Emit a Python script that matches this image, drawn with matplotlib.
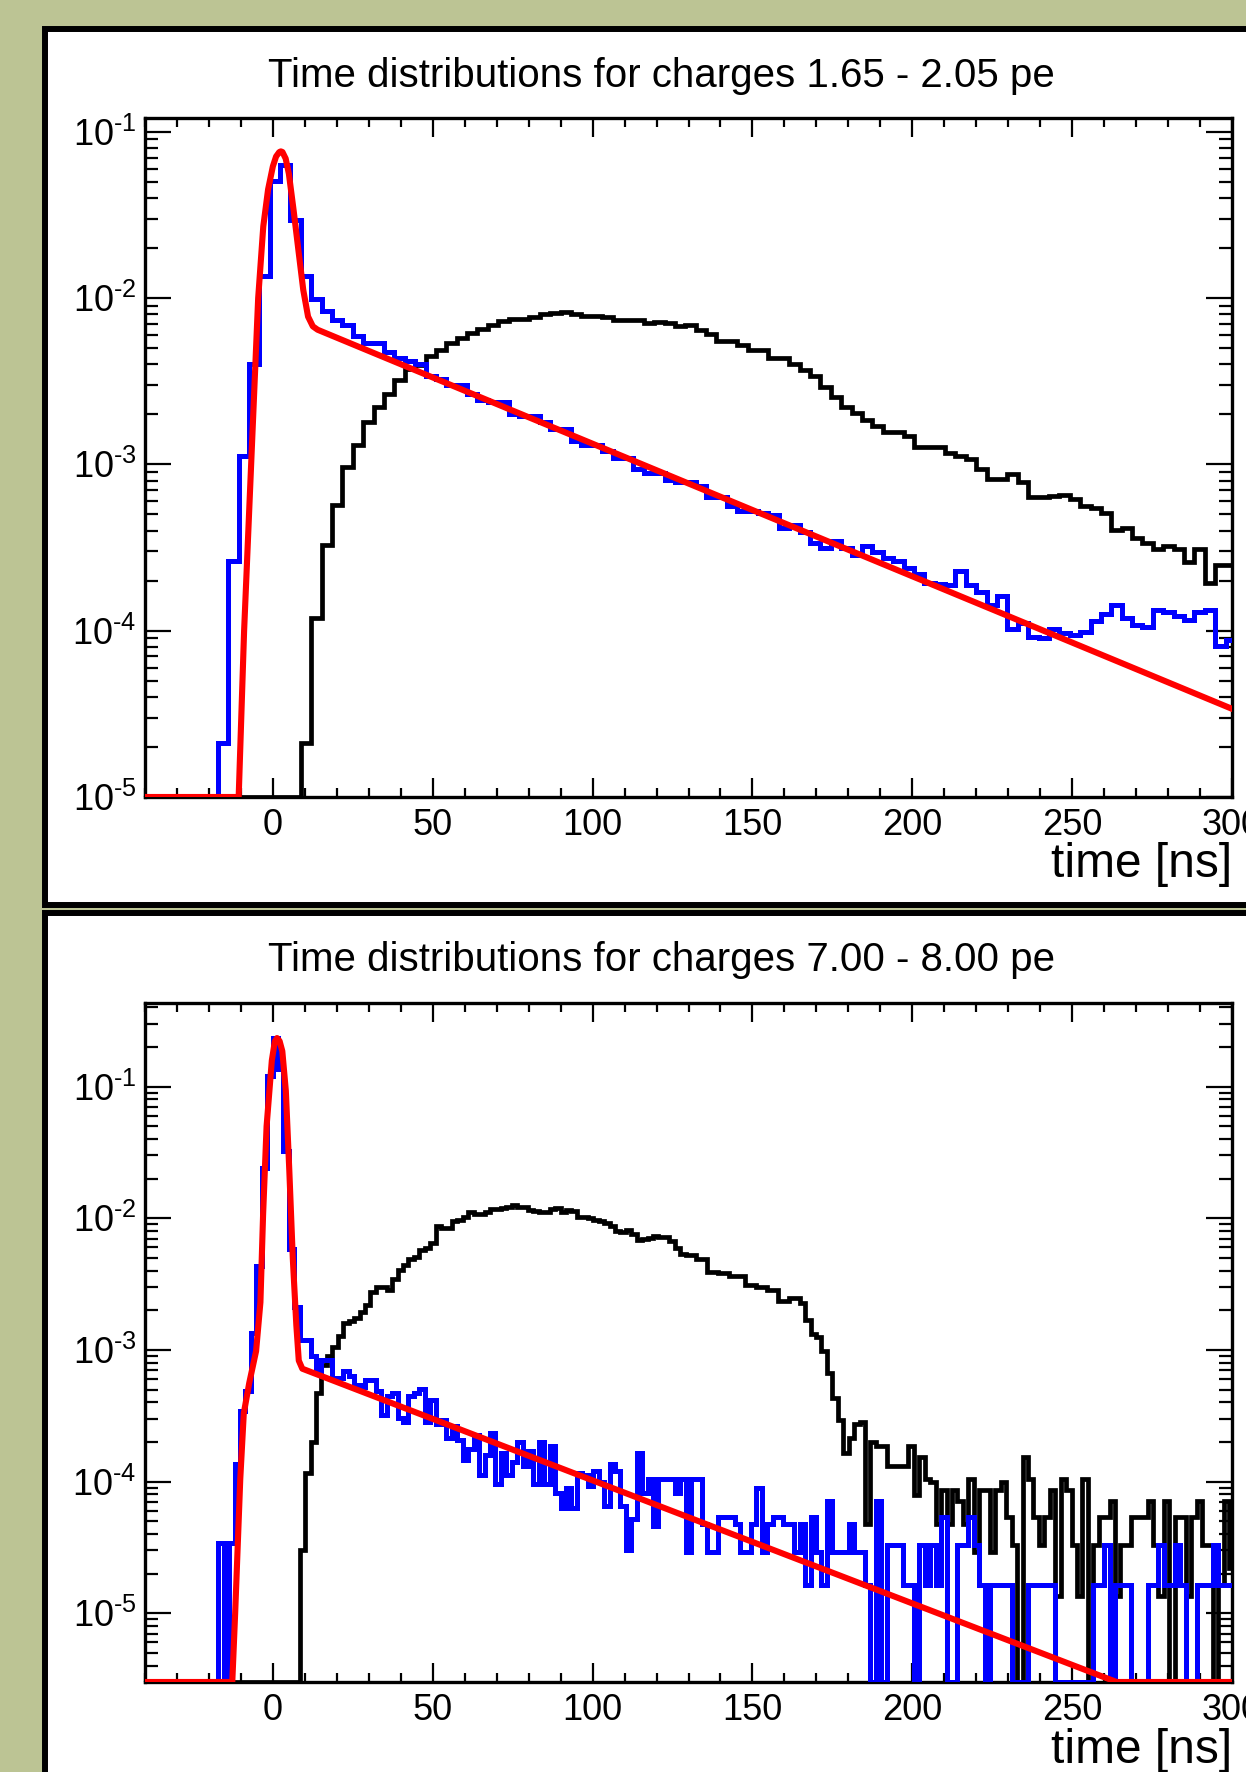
import numpy as np
import matplotlib
matplotlib.use("Agg")
import matplotlib.pyplot as plt
from matplotlib.patches import Rectangle
from matplotlib.ticker import LogLocator, MultipleLocator, NullFormatter, FuncFormatter

plt.rcParams['font.family'] = ['Liberation Sans', 'DejaVu Sans']
plt.rcParams['mathtext.fontset'] = 'custom'
plt.rcParams['mathtext.rm'] = 'Liberation Sans'
plt.rcParams['mathtext.default'] = 'regular'
plt.rcParams['axes.unicode_minus'] = False

# ---- data ----
titles = ["Time distributions for charges 1.65 - 2.05 pe",
          "Time distributions for charges 7.00 - 8.00 pe"]
xlabel = "time [ns]"
x_range = (-40, 300)
y_range_top = (1e-5, 0.121)
y_range_bot = (3e-6, 0.432)

# top panel: bin width 3.25 ns
top_width = 3.25
top_blue_start = -17.25
top_blue = [2.12e-5, 2.62e-4, 1.13e-3, 4.01e-3, 1.355e-2, 5.07e-2, 6.35e-2, 2.96e-2, 1.355e-2, 9.88e-3,
            8.38e-3, 7.38e-3, 6.93e-3, 5.89e-3, 5.37e-3, 5.37e-3, 4.75e-3, 4.34e-3, 4.16e-3, 4.01e-3,
            3.40e-3, 3.26e-3, 3.01e-3, 3.01e-3, 2.66e-3, 2.43e-3, 2.36e-3, 2.36e-3, 2.02e-3, 1.96e-3,
            1.96e-3, 1.79e-3, 1.63e-3, 1.63e-3, 1.39e-3, 1.30e-3, 1.30e-3, 1.20e-3, 1.10e-3, 1.10e-3,
            9.44e-4, 8.88e-4, 8.88e-4, 8.10e-4, 7.85e-4, 7.85e-4, 7.39e-4, 6.35e-4, 6.35e-4, 5.62e-4,
            5.28e-4, 5.28e-4, 5.13e-4, 4.98e-4, 4.14e-4, 4.35e-4, 3.90e-4, 3.35e-4, 3.15e-4, 3.45e-4,
            3.15e-4, 2.84e-4, 3.25e-4, 2.96e-4, 2.74e-4, 2.62e-4, 2.39e-4, 2.18e-4, 1.93e-4, 1.90e-4,
            1.87e-4, 2.28e-4, 1.87e-4, 1.71e-4, 1.43e-4, 1.61e-4, 1.02e-4, 1.12e-4, 9.12e-5, 9.02e-5,
            1.02e-4, 9.70e-5, 9.47e-5, 9.88e-5, 1.15e-4, 1.26e-4, 1.43e-4, 1.19e-4, 1.08e-4, 1.05e-4,
            1.34e-4, 1.30e-4, 1.22e-4, 1.16e-4, 1.30e-4, 1.34e-4, 8.08e-5, 8.75e-5]
top_black_start = 8.75
top_black = [2.12e-5, 1.20e-4, 3.29e-4, 5.69e-4, 9.61e-4, 1.30e-3, 1.81e-3, 2.22e-3, 2.66e-3, 3.20e-3,
             3.72e-3, 3.96e-3, 4.47e-3, 4.90e-3, 5.37e-3, 5.78e-3, 6.14e-3, 6.53e-3, 6.93e-3, 7.28e-3,
             7.50e-3, 7.50e-3, 7.74e-3, 7.98e-3, 8.13e-3, 8.22e-3, 7.98e-3, 7.83e-3, 7.83e-3, 7.65e-3,
             7.38e-3, 7.38e-3, 7.38e-3, 7.06e-3, 7.20e-3, 7.06e-3, 6.77e-3, 6.85e-3, 6.45e-3, 6.07e-3,
             5.54e-3, 5.54e-3, 5.21e-3, 4.90e-3, 4.90e-3, 4.34e-3, 4.34e-3, 4.01e-3, 3.68e-3, 3.40e-3,
             2.92e-3, 2.55e-3, 2.22e-3, 2.05e-3, 1.85e-3, 1.71e-3, 1.57e-3, 1.57e-3, 1.49e-3, 1.28e-3,
             1.28e-3, 1.28e-3, 1.17e-3, 1.13e-3, 1.07e-3, 9.44e-4, 8.20e-4, 8.20e-4, 8.72e-4, 7.85e-4,
             6.35e-4, 6.35e-4, 6.43e-4, 6.55e-4, 6.16e-4, 5.62e-4, 5.45e-4, 5.13e-4, 4.02e-4, 4.14e-4,
             3.62e-4, 3.35e-4, 3.09e-4, 3.21e-4, 3.09e-4, 2.58e-4, 3.09e-4, 1.93e-4, 2.47e-4, 2.47e-4]
top_fit_x = [-40, -10.7, -9.0, -6.8, -4.6, -3.0, -1.5, 0.0, 1.0, 2.0, 2.5, 3.0, 4.0, 5.0, 6.5, 8.0,
             9.5, 11.0, 12.5, 14.0, 300]
top_fit_y = [1e-5, 1e-5, 1.0e-4, 1.0e-3, 1.0e-2, 2.7e-2, 4.5e-2, 6.2e-2, 7.1e-2, 7.55e-2, 7.62e-2,
             7.55e-2, 6.9e-2, 5.6e-2, 3.35e-2, 1.93e-2, 1.12e-2, 7.74e-3, 6.76e-3, 6.45e-3, 3.39e-5]

# bottom panel: bin width 1.7 ns
bot_width = 1.7
bot_blue_start = -17.1
bot_blue = [3.4e-5, 0, 3.4e-5, 1.36e-4, 3.44e-4, 4.86e-4, 1.35e-3, 4.32e-3, 2.40e-2, 1.21e-1,
            2.34e-1, 1.36e-1, 3.27e-2, 5.83e-3, 2.11e-3, 1.18e-3, 1.18e-3, 9.01e-4, 6.73e-4, 8.35e-4,
            8.35e-4, 6.13e-4, 6.13e-4, 6.89e-4, 6.37e-4, 5.46e-4, 5.25e-4, 5.90e-4, 5.90e-4, 4.86e-4,
            3.18e-4, 4.50e-4, 4.68e-4, 3.06e-4, 2.83e-4, 4.50e-4, 4.68e-4, 5.06e-4, 2.83e-4, 4.17e-4,
            2.72e-4, 2.95e-4, 2.16e-4, 2.62e-4, 2.08e-4, 1.47e-4, 1.78e-4, 2.25e-4, 1.12e-4, 1.59e-4,
            2.34e-4, 9.62e-5, 1.65e-4, 1.12e-4, 1.41e-4, 2.00e-4, 1.31e-4, 1.71e-4, 9.62e-5, 2.00e-4,
            9.62e-5, 1.85e-4, 8.24e-5, 6.29e-5, 8.89e-5, 6.29e-5, 1.17e-4, 1.12e-4, 9.25e-5, 1.21e-4,
            1.00e-4, 6.53e-5, 1.36e-4, 1.21e-4, 6.53e-5, 3.02e-5, 5.19e-5, 1.65e-4, 8.24e-5, 1.04e-4,
            4.62e-5, 1.04e-4, 1.04e-4, 1.04e-4, 8.24e-5, 1.04e-4, 2.9e-5, 1.04e-4, 1.04e-4, 4.8e-5,
            2.9e-5, 2.9e-5, 5.4e-5, 5.4e-5, 5.4e-5, 4.8e-5, 2.9e-5, 2.9e-5, 4.8e-5, 8.9e-5,
            2.9e-5, 4.8e-5, 5.4e-5, 5.4e-5, 4.8e-5, 4.8e-5, 2.9e-5, 4.8e-5, 1.63e-5, 5.4e-5,
            2.9e-5, 1.63e-5, 7.06e-5, 2.9e-5, 2.9e-5, 2.9e-5, 4.8e-5, 2.9e-5, 2.9e-5, 1.63e-5,
            0, 7.06e-5, 0, 3.27e-5, 3.27e-5, 3.27e-5, 1.63e-5, 1.63e-5, 0, 3.27e-5,
            1.63e-5, 3.27e-5, 1.63e-5, 5.4e-5, 0, 0, 3.27e-5, 3.27e-5, 5.4e-5, 3.27e-5,
            1.63e-5, 0, 1.63e-5, 1.63e-5, 1.63e-5, 1.63e-5, 0, 0, 0, 1.63e-5,
            1.63e-5, 1.63e-5, 1.63e-5, 1.63e-5, 0, 0, 0, 0, 0, 0,
            0, 1.63e-5, 1.63e-5, 3.27e-5, 0, 1.63e-5, 1.63e-5, 1.63e-5, 0, 0,
            0, 1.63e-5, 1.63e-5, 3.27e-5, 1.63e-5, 1.63e-5, 3.27e-5, 1.63e-5, 0, 0,
            1.63e-5, 1.63e-5, 1.63e-5, 3.27e-5, 1.63e-5, 1.63e-5, 1.63e-5]
bot_black_start = 8.4
bot_black = [3.0e-5, 1.17e-4, 2.0e-4, 4.68e-4, 7.7e-4, 9.0e-4, 1.05e-3, 1.28e-3, 1.61e-3, 1.67e-3,
             1.74e-3, 1.95e-3, 2.19e-3, 2.76e-3, 2.98e-3, 2.98e-3, 2.87e-3, 3.48e-3, 4.06e-3, 4.39e-3,
             4.93e-3, 5.12e-3, 5.75e-3, 5.97e-3, 6.45e-3, 8.79e-3, 8.45e-3, 8.45e-3, 9.50e-3, 9.72e-3,
             1.026e-2, 1.109e-2, 1.083e-2, 1.083e-2, 1.109e-2, 1.170e-2, 1.170e-2, 1.197e-2, 1.225e-2, 1.264e-2,
             1.225e-2, 1.225e-2, 1.151e-2, 1.134e-2, 1.109e-2, 1.109e-2, 1.170e-2, 1.197e-2, 1.109e-2, 1.151e-2,
             1.134e-2, 1.026e-2, 1.026e-2, 1.002e-2, 9.72e-3, 9.50e-3, 9.28e-3, 8.79e-3, 7.94e-3, 7.83e-3,
             8.13e-3, 7.54e-3, 6.81e-3, 6.97e-3, 7.14e-3, 7.36e-3, 7.25e-3, 7.25e-3, 6.71e-3, 5.97e-3,
             5.32e-3, 5.24e-3, 5.24e-3, 4.93e-3, 4.93e-3, 3.91e-3, 3.91e-3, 3.85e-3, 3.85e-3, 3.62e-3,
             3.62e-3, 3.62e-3, 3.10e-3, 3.10e-3, 2.98e-3, 2.98e-3, 2.83e-3, 2.83e-3, 2.37e-3, 2.37e-3,
             2.50e-3, 2.50e-3, 2.28e-3, 1.70e-3, 1.33e-3, 1.25e-3, 9.75e-4, 6.73e-4, 4.34e-4, 2.95e-4,
             1.65e-4, 2.16e-4, 2.72e-4, 2.83e-4, 4.80e-5, 2.00e-4, 1.85e-4, 1.85e-4, 1.31e-4, 1.31e-4,
             1.31e-4, 1.31e-4, 1.85e-4, 7.93e-5, 1.53e-4, 1.04e-4, 1.00e-4, 4.80e-5, 8.57e-5, 4.80e-5,
             8.57e-5, 7.06e-5, 4.80e-5, 1.04e-4, 2.90e-5, 8.57e-5, 8.57e-5, 2.90e-5, 8.57e-5, 1.00e-4,
             5.39e-5, 3.27e-5, 0, 1.53e-4, 1.04e-4, 5.39e-5, 3.27e-5, 5.39e-5, 8.57e-5, 1.34e-5,
             1.04e-4, 8.57e-5, 3.27e-5, 1.34e-5, 1.04e-4, 0, 3.27e-5, 5.39e-5, 5.39e-5, 7.06e-5,
             1.34e-5, 3.27e-5, 3.27e-5, 5.39e-5, 5.39e-5, 5.39e-5, 7.06e-5, 3.27e-5, 1.34e-5, 7.06e-5,
             0, 5.39e-5, 5.39e-5, 1.34e-5, 5.39e-5, 7.06e-5, 3.27e-5, 3.27e-5, 0, 1.63e-5,
             7.06e-5, 2.22e-5]
bot_fit_x = [-40, -12.7, -11.8, -10.2, -9.1, -7.4, -5.25, -3.9, -3.06, -1.97, -0.33, 0.6, 1.3, 2.1,
             2.95, 4.05, 5.14, 6.24, 7.33, 8.1, 9.2, 263.9, 300]
bot_fit_y = [3e-6, 3e-6, 1e-5, 1.05e-4, 3.3e-4, 5.6e-4, 9.8e-4, 2.3e-3, 1.07e-2, 5.0e-2, 0.158, 0.22,
             0.234, 0.222, 0.186, 0.093, 0.023, 4.9e-3, 1.55e-3, 8.3e-4, 7.2e-4, 3e-6, 3e-6]

# ---- layout (pixels of the 1246x1772 picture) ----
W, H = 1246, 1772
def fx(x): return x / W
def fy(y): return 1 - y / H

fig = plt.figure(figsize=(W / 100, H / 100), dpi=100)
fig.patch.set_facecolor('#bcc494')

# white pads with thick black borders
for top, bot in [(29, 905), (913, 1800)]:
    fig.add_artist(Rectangle((fx(45), fy(bot)), fx(1320) - fx(45), (bot - top) / H,
                             transform=fig.transFigure, facecolor='white',
                             edgecolor='black', lw=4.3, zorder=-5))


def hist_line(ax, start, width, vals, ymin, **kw):
    vals = np.asarray(vals, float)
    edges = start + width * np.arange(len(vals) + 1)
    v = np.concatenate([[0.0], vals])
    e = np.concatenate([[x_range[0]], edges])
    if e[-1] < x_range[1]:
        v = np.append(v, 0.0)
        e = np.append(e, x_range[1])
    v = np.where(v > 0, v, ymin)
    ax.stairs(v, e, baseline=None, **kw)


def pow_label(v, pos):
    # ROOT-style 10^-n with a plain hyphen in the exponent
    e = int(round(np.log10(v)))
    return r'$10^{\text{%d}}$' % e


panels = [
    (118, 797, y_range_top, top_blue_start, top_width, top_blue, top_black_start, top_black,
     top_fit_x, top_fit_y, 87, 877),
    (1003, 1682, y_range_bot, bot_blue_start, bot_width, bot_blue, bot_black_start, bot_black,
     bot_fit_x, bot_fit_y, 971, 1763),
]

for i, (ytop, ybot, yr, bs, w, bv, ks, kv, fxs, fys, ty, ly) in enumerate(panels):
    ax = fig.add_axes([fx(145), fy(ybot), fx(1232) - fx(145), (ybot - ytop) / H])
    ax.set_yscale('log')
    ax.set_xlim(*x_range)
    ax.set_ylim(*yr)

    hist_line(ax, ks, w, kv, yr[0], color='black', lw=3.4, zorder=2)
    hist_line(ax, bs, w, bv, yr[0], color='#0000ff', lw=3.6, zorder=3)
    ax.plot(fxs, fys, color='#ff0000', lw=4.4, zorder=4, solid_joinstyle='round')

    ax.xaxis.set_major_locator(MultipleLocator(50))
    ax.xaxis.set_minor_locator(MultipleLocator(10))
    ax.yaxis.set_major_locator(LogLocator(base=10, numticks=20))
    ax.yaxis.set_major_formatter(FuncFormatter(pow_label))
    ax.yaxis.set_minor_locator(LogLocator(base=10, subs=np.arange(2, 10), numticks=50))
    ax.yaxis.set_minor_formatter(NullFormatter())
    ax.tick_params(which='both', direction='in', top=True, right=True, width=1.6,
                   labelsize=26, colors='black')
    ax.tick_params(axis='x', which='major', length=14, pad=8)
    ax.tick_params(axis='x', which='minor', length=6.5)
    ax.tick_params(axis='y', which='major', length=19, pad=6)
    ax.tick_params(axis='y', which='minor', length=9.5)
    for s in ax.spines.values():
        s.set_linewidth(2.4)

    fig.text(fx(661), fy(ty), titles[i], ha='center', va='baseline', fontsize=29)
    fig.text(fx(1232), fy(ly), xlabel, ha='right', va='baseline', fontsize=34.5)

fig.savefig('out.png', dpi=100, facecolor=fig.get_facecolor())
